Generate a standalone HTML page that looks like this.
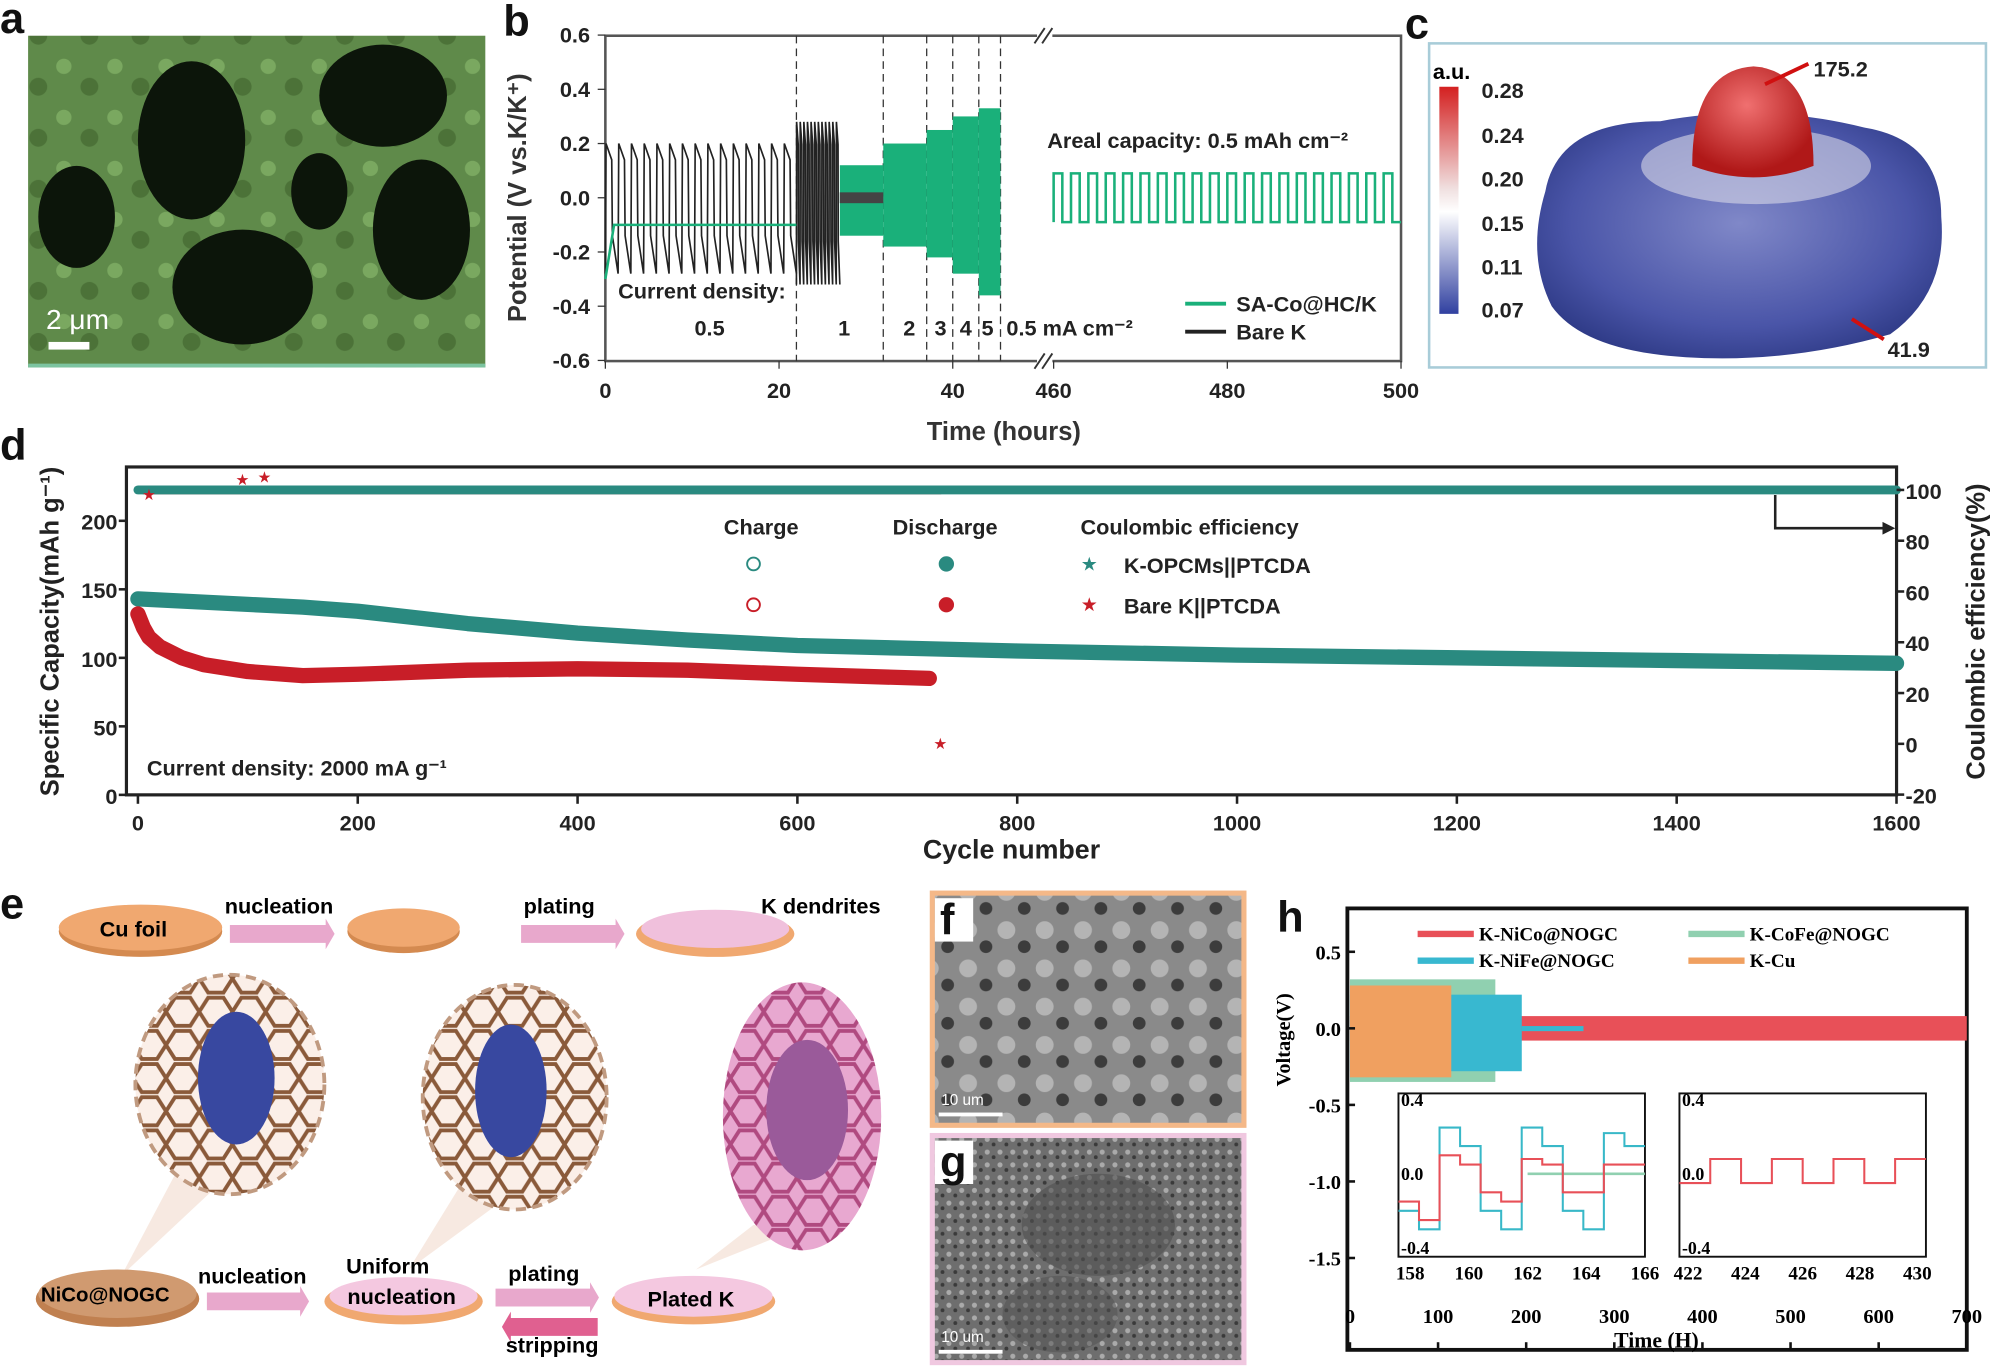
<!DOCTYPE html>
<html><head><meta charset="utf-8">
<style>
html,body{margin:0;padding:0;background:#fff;}
svg{display:block;font-family:"Liberation Sans",Arial,sans-serif;}
.t{font-size:17px;fill:#222;font-weight:bold;}
.lab{font-size:34px;font-weight:bold;fill:#111;}
</style></head>
<body>
<svg id="fig" width="2000" height="1369" viewBox="0 0 1566 1073" preserveAspectRatio="none" xmlns="http://www.w3.org/2000/svg">
<defs>
<radialGradient id="gc" cx="50%" cy="45%" r="60%"><stop offset="0" stop-color="#8088c8"/><stop offset="0.7" stop-color="#4a55a8"/><stop offset="1" stop-color="#2e3a86"/></radialGradient>
<radialGradient id="gr" cx="45%" cy="35%" r="60%"><stop offset="0" stop-color="#f07070"/><stop offset="1" stop-color="#b01818"/></radialGradient>
<linearGradient id="cbar" x1="0" y1="0" x2="0" y2="1"><stop offset="0" stop-color="#d42020"/><stop offset="0.45" stop-color="#f0e0e0"/><stop offset="0.55" stop-color="#ffffff"/><stop offset="1" stop-color="#3040a0"/></linearGradient>
<pattern id="semA" width="40" height="40" patternUnits="userSpaceOnUse"><rect width="40" height="40" fill="#5f8a4a"/><circle cx="10" cy="12" r="6" fill="#7aa860"/><circle cx="30" cy="28" r="7" fill="#4c7238"/></pattern>
<pattern id="semF" width="30" height="30" patternUnits="userSpaceOnUse"><rect width="30" height="30" fill="#8a8a8a"/><circle cx="8" cy="9" r="7" fill="#b4b4b4"/><circle cx="22" cy="22" r="5" fill="#3c3c3c"/></pattern>
<pattern id="semG" width="10" height="10" patternUnits="userSpaceOnUse"><rect width="10" height="10" fill="#6e6e6e"/><circle cx="3" cy="3" r="2" fill="#aaa"/><circle cx="8" cy="7" r="1.5" fill="#3a3a3a"/></pattern>
<pattern id="hex" width="26" height="26" patternUnits="userSpaceOnUse"><rect width="26" height="26" fill="#fbefe8"/><path d="M0 13 L7 2 L19 2 L26 13 L19 24 L7 24 Z" fill="none" stroke="#8a5a3a" stroke-width="3"/></pattern>
<pattern id="hexp" width="26" height="26" patternUnits="userSpaceOnUse"><rect width="26" height="26" fill="#e8a8d0"/><path d="M0 13 L7 2 L19 2 L26 13 L19 24 L7 24 Z" fill="none" stroke="#b04a80" stroke-width="3"/></pattern>
</defs>

<text class="lab" x="0" y="26">a</text>
<g>
<rect x="22" y="28" width="358" height="260" fill="url(#semA)"/>
<ellipse cx="150" cy="110" rx="42" ry="62" fill="#0c150a"/>
<ellipse cx="300" cy="75" rx="50" ry="40" fill="#0c150a"/>
<ellipse cx="190" cy="225" rx="55" ry="45" fill="#0c150a"/>
<ellipse cx="330" cy="180" rx="38" ry="55" fill="#0c150a"/>
<ellipse cx="60" cy="170" rx="30" ry="40" fill="#0c150a"/>
<ellipse cx="250" cy="150" rx="22" ry="30" fill="#0c150a"/>
<rect x="22" y="285" width="358" height="3" fill="#7cc4a0"/>
<text x="36" y="258" fill="#fff" font-size="22">2 μm</text>
<rect x="38" y="268" width="32" height="6" fill="#fff"/>
</g>

<text class="lab" x="394" y="28">b</text>
<g id="pb"></g>

<text class="lab" x="1100" y="30">c</text>
<g>
<rect x="1119" y="34" width="436" height="254" fill="#fff" stroke="#a8ccd8" stroke-width="2"/>
<path d="M1210 150 Q1220 95 1300 95 Q1380 80 1460 100 Q1520 110 1520 170 Q1525 230 1480 262 Q1400 285 1320 280 Q1240 275 1215 240 Q1195 200 1210 150Z" fill="url(#gc)"/>
<ellipse cx="1375" cy="130" rx="90" ry="30" fill="#d8d8e8" opacity="0.6"/>
<path d="M1325 130 Q1325 55 1373 52 Q1420 55 1420 130 Q1373 148 1325 130Z" fill="url(#gr)"/>
<rect x="1127" y="68" width="15" height="178" fill="url(#cbar)"/>
<text x="1122" y="62" font-size="17" font-weight="bold">a.u.</text>
<text x="1160" y="77" class="t">0.28</text>
<text x="1160" y="112" class="t">0.24</text>
<text x="1160" y="146" class="t">0.20</text>
<text x="1160" y="181" class="t">0.15</text>
<text x="1160" y="215" class="t">0.11</text>
<text x="1160" y="249" class="t">0.07</text>
<line x1="1382" y1="66" x2="1416" y2="50" stroke="#d01010" stroke-width="3"/>
<text x="1420" y="60" class="t" font-size="18">175.2</text>
<line x1="1450" y1="250" x2="1475" y2="266" stroke="#d01010" stroke-width="3"/>
<text x="1478" y="280" class="t" font-size="18">41.9</text>
</g>

<text class="lab" x="0" y="360">d</text>
<g id="pd"></g>

<text class="lab" x="0" y="720">e</text>
<g>
<polygon points="95,1000 140,915 175,925" fill="#f4e0d4" opacity="0.7"/>
<polygon points="320,995 360,930 395,940" fill="#f4e0d4" opacity="0.7"/>
<polygon points="545,995 590,960 620,965" fill="#f4e0d4" opacity="0.7"/>
<ellipse cx="110" cy="730" rx="64" ry="20" fill="#d48a50"/><ellipse cx="110" cy="727" rx="64" ry="18" fill="#f0a870"/>
<text x="78" y="734" font-size="17" font-weight="bold">Cu foil</text>
<polygon points="180,725 255,725 255,720 262,732 255,744 255,739 180,739" fill="#e8a8cc"/>
<text x="176" y="716" font-size="17" font-weight="bold">nucleation</text>
<ellipse cx="316" cy="730" rx="44" ry="17" fill="#d48a50"/><ellipse cx="316" cy="727" rx="44" ry="15" fill="#f0a870"/>
<polygon points="408,725 482,725 482,720 489,732 482,744 482,739 408,739" fill="#e8a8cc"/>
<text x="410" y="716" font-size="17" font-weight="bold">plating</text>
<ellipse cx="560" cy="732" rx="62" ry="18" fill="#f0a870"/><ellipse cx="560" cy="728" rx="58" ry="15" fill="#f0c0dc"/>
<text x="596" y="716" font-size="17" font-weight="bold">K dendrites</text>
<ellipse cx="180" cy="850" rx="74" ry="86" fill="url(#hex)" stroke="#c09a80" stroke-width="3" stroke-dasharray="8 5"/>
<ellipse cx="185" cy="845" rx="30" ry="52" fill="#3848a0"/>
<ellipse cx="403" cy="860" rx="72" ry="88" fill="url(#hex)" stroke="#c09a80" stroke-width="3" stroke-dasharray="8 5"/>
<ellipse cx="400" cy="855" rx="28" ry="52" fill="#3848a0"/>
<ellipse cx="628" cy="875" rx="62" ry="105" fill="url(#hexp)"/>
<ellipse cx="632" cy="870" rx="32" ry="55" fill="#9a5a9a"/>
<ellipse cx="92" cy="1018" rx="64" ry="22" fill="#c08050"/><ellipse cx="92" cy="1014" rx="62" ry="19" fill="#d09a70"/>
<text x="32" y="1020" font-size="16" font-weight="bold">NiCo@NOGC</text>
<polygon points="162,1013 235,1013 235,1008 242,1020 235,1032 235,1027 162,1027" fill="#e8a8cc"/>
<text x="155" y="1006" font-size="17" font-weight="bold">nucleation</text>
<ellipse cx="316" cy="1020" rx="62" ry="18" fill="#f0a870"/><ellipse cx="316" cy="1016" rx="58" ry="15" fill="#f4c8e0"/>
<text x="271" y="998" font-size="17" font-weight="bold">Uniform</text>
<text x="272" y="1022" font-size="17" font-weight="bold">nucleation</text>
<polygon points="388,1010 462,1010 462,1005 469,1017 462,1029 462,1024 388,1024" fill="#e8a8cc"/>
<polygon points="393,1040 400,1028 400,1033 468,1033 468,1047 400,1047 400,1052" fill="#e06090"/>
<text x="398" y="1004" font-size="17" font-weight="bold">plating</text>
<text x="396" y="1060" font-size="17" font-weight="bold">stripping</text>
<ellipse cx="543" cy="1020" rx="64" ry="18" fill="#f0a870"/><ellipse cx="543" cy="1016" rx="62" ry="16" fill="#f4c8e0"/>
<text x="507" y="1024" font-size="17" font-weight="bold">Plated K</text>
</g>

<g>
<rect x="728" y="698" width="248" height="186" fill="#f4b888"/>
<rect x="732" y="702" width="240" height="178" fill="url(#semF)"/>
<rect x="732" y="704" width="30" height="34" fill="#fff"/>
<text x="736" y="732" class="lab" font-size="30">f</text>
<text x="737" y="866" fill="#fff" font-size="12">10 um</text>
<rect x="735" y="872" width="50" height="3" fill="#fff"/>
</g>
<g>
<rect x="728" y="888" width="248" height="182" fill="#f0c8e0"/>
<rect x="732" y="892" width="240" height="174" fill="url(#semG)"/>
<ellipse cx="860" cy="960" rx="60" ry="40" fill="#505050" opacity="0.6"/>
<ellipse cx="830" cy="1030" rx="45" ry="30" fill="#505050" opacity="0.5"/>
<rect x="732" y="894" width="30" height="34" fill="#fff"/>
<text x="736" y="922" class="lab" font-size="30">g</text>
<text x="737" y="1052" fill="#fff" font-size="12">10 um</text>
<rect x="735" y="1058" width="50" height="3" fill="#fff"/>
</g>

<text class="lab" x="1000" y="730">h</text>
<g id="ph"></g>
</svg>

<script>
const NS="http://www.w3.org/2000/svg";
function mk(parent,tag,attrs,txt){const e=document.createElementNS(NS,tag);for(const k in attrs)e.setAttribute(k,attrs[k]);if(txt!==undefined)e.textContent=txt;parent.appendChild(e);return e;}

/* ---------- Panel b data ---------- */
const bSegStart=[0,22,27,32,37,40,43];
const bSegEnd=[22,27,32,37,40,43,45.5];
const bGreenHigh=[0.17,0.12,0.12,0.2,0.25,0.3,0.33];
const bGreenLow=[-0.12,-0.14,-0.14,-0.18,-0.22,-0.28,-0.36];
const bBlackHigh=[0.2,0.28,0.02];
const bBlackLow=[-0.28,-0.32,-0.02];
const bBlackCycles=[15,12,0];
const bLongStart=460, bLongEnd=500, bLongCycles=20, bLongHigh=0.09, bLongLow=-0.09;
const bYTicks=[0.6,0.4,0.2,0.0,-0.2,-0.4,-0.6];
const bXTicksLeft=[0,20,40];
const bXTicksRight=[460,480,500];
const bDashes=[22,32,37,40,43,45.5];
const bSegLabels=["0.5","1","2","3","4","5"];
const bSegLabelT=[12,27.5,35,38.6,41.5,44];

(function(){
const g=document.getElementById('pb');
const X=t=>t<=46?474+t*6.8:825+(t-460)*6.8;
const Y=v=>155-v*212.5;
mk(g,'rect',{x:474,y:28,width:623,height:255,fill:'none',stroke:'#555','stroke-width':2});
[28,283].forEach(y=>{mk(g,'rect',{x:812,y:y-6,width:12,height:12,fill:'#fff'});
 mk(g,'line',{x1:810,y1:y+6,x2:818,y2:y-6,stroke:'#333','stroke-width':1.5});
 mk(g,'line',{x1:816,y1:y+6,x2:824,y2:y-6,stroke:'#333','stroke-width':1.5});});
bDashes.forEach(t=>{const l=mk(g,'line',{x1:X(t),y1:28,x2:X(t),y2:283,stroke:'#333','stroke-dasharray':'6 4','stroke-width':1});
});
for(let i=0;i<bBlackCycles.length;i++){
 const s=bSegStart[i],e=bSegEnd[i],n=bBlackCycles[i];
 if(n===0){const r=mk(g,'rect',{x:X(27),y:Y(bBlackHigh[i]),width:X(32)-X(27),height:Y(bBlackLow[i])-Y(bBlackHigh[i]),fill:'#333'});
  continue;}
 let d='';const p=(e-s)/n;
 for(let k=0;k<n;k++){const a=s+k*p;
  d+=(k?'L':'M')+X(a)+' '+Y(bBlackLow[i])+'L'+X(a+0.05*p)+' '+Y(bBlackHigh[i])+'L'+X(a+0.5*p)+' '+Y(bBlackHigh[i]*0.7)+'L'+X(a+0.55*p)+' '+Y(bBlackLow[i]*0.5)+'L'+X(a+p)+' '+Y(bBlackLow[i]);}
 const pth=mk(g,'path',{d:d,fill:'none',stroke:'#222','stroke-width':1.3});
 
}
for(let i=2;i<bSegStart.length;i++){
 const r=mk(g,'rect',{x:X(bSegStart[i]),y:Y(bGreenHigh[i]),width:X(bSegEnd[i])-X(bSegStart[i]),height:Y(bGreenLow[i])-Y(bGreenHigh[i]),fill:'#1ab07a'});
 
}
mk(g,'rect',{x:X(27),y:Y(0.02),width:X(32)-X(27),height:Y(-0.02)-Y(0.02),fill:'#444'});
{let d='';const p=(bLongEnd-bLongStart)/bLongCycles;
 for(let k=0;k<bLongCycles;k++){const a=bLongStart+k*p;
  d+=(k?'L':'M')+X(a)+' '+Y(bLongLow)+'L'+X(a)+' '+Y(bLongHigh)+'L'+X(a+0.5*p)+' '+Y(bLongHigh)+'L'+X(a+0.5*p)+' '+Y(bLongLow)+'L'+X(a+p)+' '+Y(bLongLow);}
 const pth=mk(g,'path',{d:d,fill:'none',stroke:'#1ab07a','stroke-width':2});
 }
mk(g,'path',{d:'M'+X(0)+' '+Y(-0.3)+'L'+X(1)+' '+Y(-0.1)+'L'+X(22)+' '+Y(-0.1),fill:'none',stroke:'#1ab07a','stroke-width':2});
bYTicks.forEach(v=>{mk(g,'line',{x1:468,y1:Y(v),x2:474,y2:Y(v),stroke:'#333'});
 const t=mk(g,'text',{x:462,y:Y(v)+6,'text-anchor':'end',class:'t'},v.toFixed(1));
 });
bXTicksLeft.concat(bXTicksRight).forEach(v=>{mk(g,'line',{x1:X(v),y1:283,x2:X(v),y2:289,stroke:'#333'});
 const t=mk(g,'text',{x:X(v),y:312,'text-anchor':'middle',class:'t'},String(v));
 });
const xt=mk(g,'text',{x:786,y:345,'text-anchor':'middle','font-size':20,'font-weight':'bold',fill:'#333'},'Time (hours)');

const yt=mk(g,'text',{transform:'translate(412,155) rotate(-90)','text-anchor':'middle','font-size':20,'font-weight':'bold',fill:'#333'},'Potential (V vs.K/K⁺)');

mk(g,'text',{x:820,y:116,class:'t'},'Areal capacity: 0.5 mAh cm⁻²');
mk(g,'text',{x:484,y:234,class:'t','font-size':16},'Current density:');
bSegLabels.forEach((s,i)=>{const t=mk(g,'text',{x:X(bSegLabelT[i]),y:263,'text-anchor':'middle',class:'t','font-size':16},s);
 });
mk(g,'text',{x:788,y:263,class:'t','font-size':16},'0.5 mA cm⁻²');
const l1=mk(g,'line',{x1:928,y1:238,x2:960,y2:238,stroke:'#1ab07a','stroke-width':3});

mk(g,'text',{x:968,y:244,class:'t','font-size':16},'SA-Co@HC/K');
const l2=mk(g,'line',{x1:928,y1:260,x2:960,y2:260,stroke:'#222','stroke-width':3});

mk(g,'text',{x:968,y:266,class:'t','font-size':16},'Bare K');
})();

/* ---------- Panel d data ---------- */
const dTealCycles=[0,50,100,150,200,300,400,500,600,700,800,1000,1200,1400,1600];
const dTealCap=[143,141,139,137,134,125,118,113,109,107,105,102,100,98,96];
const dRedCycles=[0,5,10,20,40,60,100,150,200,300,400,500,600,720];
const dRedCap=[132,122,115,108,100,95,90,87,88,91,92,91,88,85];
const dTealCE=[100,100];
const dTealCECycles=[0,1600];
const dRedCE=[99,99];
const dRedCECycles=[5,730];
const dRedOutlierCycles=[95,115,730,10];
const dRedOutlierCE=[104,105,0,98];
const dLeftTicks=[0,50,100,150,200];
const dRightTicks=[-20,0,20,40,60,80,100];
const dXTicks=[0,200,400,600,800,1000,1200,1400,1600];

(function(){
const g=document.getElementById('pd');
const X=c=>108+c*0.8606;
const YL=v=>623-v*1.074;
const YR=v=>583-v*1.99;
mk(g,'rect',{x:99,y:366,width:1386,height:257,fill:'none',stroke:'#222','stroke-width':2.5});
function band(cs,vs,yf,col,w,name){let d='';cs.forEach((c,i)=>d+=(i?'L':'M')+X(c)+' '+yf(vs[i]));
 const p=mk(g,'path',{d:d,fill:'none',stroke:col,'stroke-width':w,'stroke-linecap':'round','stroke-linejoin':'round'});
 }
band(dRedCECycles,dRedCE,YR,'#c04040',3,'ce-bare-k');
band(dTealCECycles,dTealCE,YR,'#2a8a80',7,'ce-k-opcms');
band(dTealCycles,dTealCap,YL,'#2a8a80',12,'capacity-k-opcms');
band(dRedCycles,dRedCap,YL,'#c81e28',12,'capacity-bare-k');
dRedOutlierCycles.forEach((c,i)=>{const t=mk(g,'text',{x:X(c),y:YR(dRedOutlierCE[i])+4,'text-anchor':'middle','font-size':12,fill:'#c81e28'},'★');
 });
dLeftTicks.forEach(v=>{mk(g,'line',{x1:93,y1:YL(v),x2:99,y2:YL(v),stroke:'#222','stroke-width':2});
 const t=mk(g,'text',{x:92,y:YL(v)+7,'text-anchor':'end',class:'t','font-size':20},String(v));
 });
dRightTicks.forEach(v=>{mk(g,'line',{x1:1485,y1:YR(v),x2:1491,y2:YR(v),stroke:'#222','stroke-width':2});
 const t=mk(g,'text',{x:1492,y:YR(v)+7,class:'t','font-size':20},String(v));
 });
dXTicks.forEach(v=>{mk(g,'line',{x1:X(v),y1:623,x2:X(v),y2:630,stroke:'#222','stroke-width':2});
 const t=mk(g,'text',{x:X(v),y:651,'text-anchor':'middle',class:'t','font-size':20},String(v));
 });
const xt=mk(g,'text',{x:792,y:673,'text-anchor':'middle','font-size':21,'font-weight':'bold',fill:'#222'},'Cycle number');

const yl=mk(g,'text',{transform:'translate(46,495) rotate(-90)','text-anchor':'middle','font-size':20,'font-weight':'bold',fill:'#222'},'Specific Capacity(mAh g⁻¹)');

const yr=mk(g,'text',{transform:'translate(1554,495) rotate(-90)','text-anchor':'middle','font-size':20,'font-weight':'bold',fill:'#222'},'Coulombic efficiency(%)');

mk(g,'path',{d:'M1390 388 L1390 414 L1478 414',fill:'none',stroke:'#222','stroke-width':2});
mk(g,'polygon',{points:'1484,414 1474,409 1474,419',fill:'#222'});
mk(g,'text',{x:596,y:419,'text-anchor':'middle',class:'t','font-size':20},'Charge');
mk(g,'text',{x:740,y:419,'text-anchor':'middle',class:'t','font-size':20},'Discharge');
mk(g,'text',{x:846,y:419,class:'t','font-size':20},'Coulombic efficiency');
const lg=[['#2a8a80',442,'K-OPCMs||PTCDA'],['#c81e28',474,'Bare K||PTCDA']];
lg.forEach(r=>{mk(g,'circle',{cx:590,cy:r[1],r:5,fill:'none',stroke:r[0],'stroke-width':1.5});
 mk(g,'circle',{cx:741,cy:r[1],r:6,fill:r[0]});
 mk(g,'text',{x:853,y:r[1]+5,'text-anchor':'middle','font-size':15,fill:r[0]},'★');
 const t=mk(g,'text',{x:880,y:r[1]+7,class:'t','font-size':20},r[2]);
 });
mk(g,'text',{x:115,y:608,class:'t','font-size':20},'Current density:  2000 mA g⁻¹');
})();

/* ---------- Panel h data ---------- */
const hSeries=['K-NiCo@NOGC','K-CoFe@NOGC','K-NiFe@NOGC','K-Cu'];
const hEnd=[700,165,195,115];
const hHigh=[0.08,0.32,0.22,0.28];
const hLow=[-0.08,-0.35,-0.28,-0.32];
const hYTicks=[0.5,0.0,-0.5,-1.0,-1.5];
const hXTicks=[0,100,200,300,400,500,600,700];
const hInL=[158,160,162,164,166];
const hInR=[422,424,426,428,430];
const hCyanSteps=[-0.2,-0.3,0.25,0.15,-0.2,-0.3,0.25,0.15,-0.2,-0.3,0.22,0.15];
const hRedSteps=[-0.15,-0.25,0.1,0.05,-0.1,-0.15,0.08,0.05,-0.1,-0.1,0.05,0.05];
const hRedRSteps=[-0.05,0.08,-0.05,0.08,-0.05,0.08,-0.05,0.08];

(function(){
const g=document.getElementById('ph');
const X=t=>1057+t*0.69;
const Y=v=>806-v*120;
const cols={'K-NiCo@NOGC':'#e85058','K-CoFe@NOGC':'#90d0b0','K-NiFe@NOGC':'#38b8d0','K-Cu':'#f0a060'};
mk(g,'rect',{x:1055,y:712,width:485,height:346,fill:'none',stroke:'#111','stroke-width':3});
[0,1,2,3].forEach(i=>{const s=hSeries[i];
 const r=mk(g,'rect',{x:X(0),y:Y(hHigh[i]),width:X(hEnd[i])-X(0),height:Y(hLow[i])-Y(hHigh[i]),fill:cols[s]});
 });
mk(g,'rect',{x:X(195),y:Y(0.015),width:X(265)-X(195),height:4,fill:'#38b8d0'});
hYTicks.forEach(v=>{mk(g,'line',{x1:1055,y1:Y(v),x2:1061,y2:Y(v),stroke:'#111','stroke-width':2});
 const t=mk(g,'text',{x:1050,y:Y(v)+6,'text-anchor':'end','font-family':'Liberation Serif','font-weight':'bold','font-size':16},v.toFixed(1));
 });
hXTicks.forEach(v=>{mk(g,'line',{x1:X(v),y1:1058,x2:X(v),y2:1052,stroke:'#111','stroke-width':2});
 const t=mk(g,'text',{x:X(v),y:1037,'text-anchor':'middle','font-family':'Liberation Serif','font-weight':'bold','font-size':16},String(v));
 });
const xt=mk(g,'text',{x:1297,y:1056,'text-anchor':'middle','font-family':'Liberation Serif','font-weight':'bold','font-size':17},'Time (H)');

const yt=mk(g,'text',{transform:'translate(1010,815) rotate(-90)','text-anchor':'middle','font-family':'Liberation Serif','font-weight':'bold','font-size':16},'Voltage(V)');

const lp=[[1110,732,0],[1322,732,1],[1110,753,2],[1322,753,3]];
lp.forEach(p=>{const s=hSeries[p[2]];mk(g,'line',{x1:p[0],y1:p[1],x2:p[0]+44,y2:p[1],stroke:cols[s],'stroke-width':5});
 const t=mk(g,'text',{x:p[0]+48,y:p[1]+5,'font-family':'Liberation Serif','font-weight':'bold','font-size':15},s);
 });
function inset(x0,x1,ticks,tmin,tmax){mk(g,'rect',{x:x0,y:857,width:x1-x0,height:128,fill:'#fff',stroke:'#111','stroke-width':1.5});
 ticks.forEach(v=>{const xx=x0+(v-tmin)/(tmax-tmin)*(x1-x0);
  const t=mk(g,'text',{x:xx,y:1003,'text-anchor':'middle','font-family':'Liberation Serif','font-weight':'bold','font-size':15},String(v));
  });
 [[0.4,'0.4'],[0,'0.0'],[-0.4,'-0.4']].forEach(a=>mk(g,'text',{x:x0+2,y:920-a[0]*145+5,'font-family':'Liberation Serif','font-size':14,'font-weight':'bold'},a[1]));
 return {X:t=>x0+(t-tmin)/(tmax-tmin)*(x1-x0),Y:v=>920-v*145};}
const L=inset(1095,1288,hInL,157.6,166);
function steps(sc,arr,t0,dt,col,name){let d='';arr.forEach((v,i)=>{d+=(i?'L':'M')+sc.X(t0+i*dt)+' '+sc.Y(v)+'L'+sc.X(t0+(i+1)*dt)+' '+sc.Y(v);});
 const p=mk(g,'path',{d:d,fill:'none',stroke:col,'stroke-width':1.6});}
mk(g,'line',{x1:L.X(162),y1:L.Y(0),x2:L.X(166),y2:L.Y(0),stroke:'#90d0b0','stroke-width':2});
steps(L,hCyanSteps,157.6,0.7,'#38b8c8','inset-nife-trace');
steps(L,hRedSteps,157.6,0.7,'#e85058','inset-nico-trace');
const R=inset(1315,1508,hInR,421.7,430.3);
steps(R,hRedRSteps,421.7,1.075,'#e85058','inset-nico-long-trace');
})();
</script>
</body></html>
